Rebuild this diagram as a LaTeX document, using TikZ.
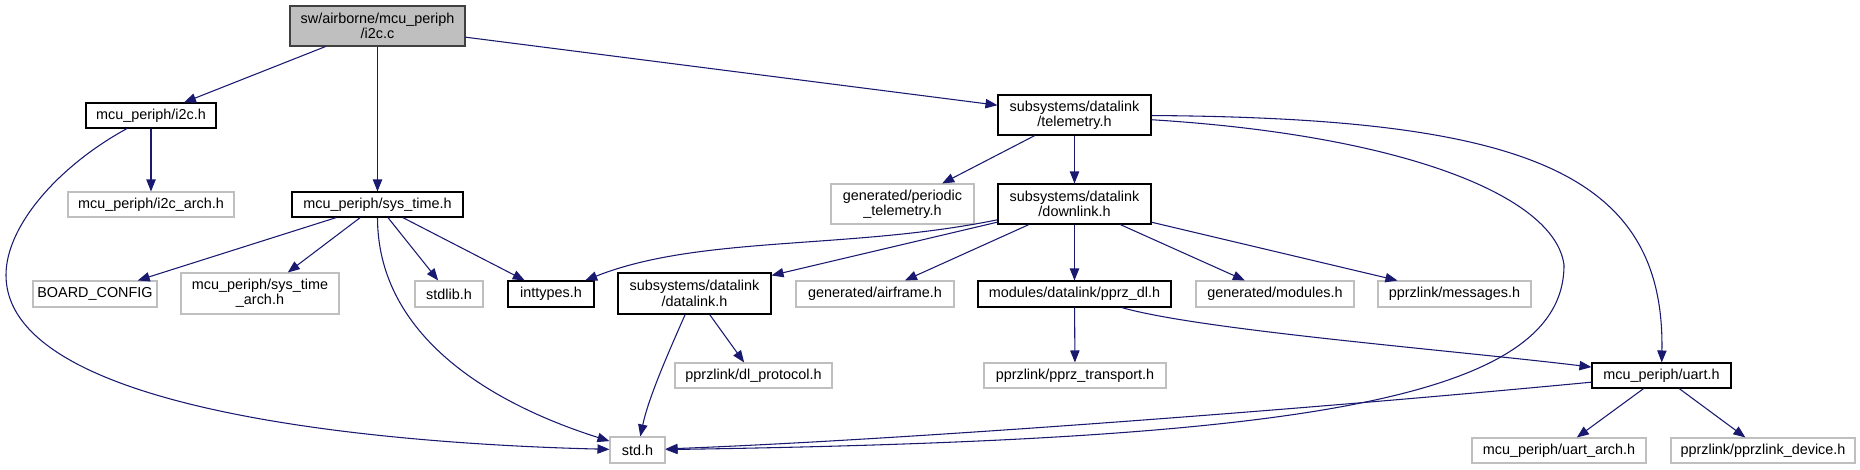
\documentclass[tikz,border=0pt]{standalone}
\usepackage{fontspec}
\setmainfont{Liberation Sans}
\usetikzlibrary{arrows.meta}
\definecolor{edgeblue}{HTML}{191970}
\definecolor{boxgray}{HTML}{BFBFBF}

\begin{document}
\begin{tikzpicture}[x=0.75pt, y=-0.75pt,
    file/.style={draw, rectangle, inner sep=1pt, minimum height=18.75pt, line width=0.8pt,
                 font=\fontsize{10.8}{11.5}\selectfont, align=center},
    doc/.style={file, draw=black},
    nodoc/.style={file, draw=boxgray},
    this/.style={file, draw=black!75, fill=boxgray},
    inc/.style={-{Triangle[length=9pt,width=7pt]}, edgeblue, line width=0.8pt}
]
    \useasboundingbox (0,0) rectangle (1860,469);

    \node[this, minimum width=131.25pt, minimum height=30pt] (i2cc) at (377.5,26) {sw/airborne/mcu\_periph\\/i2c.c};
    \node[doc, minimum width=97.5pt] (i2ch) at (151,115.5) {mcu\_periph/i2c.h};
    \node[nodoc, minimum width=124.5pt] (i2carch) at (151,204.5) {mcu\_periph/i2c\_arch.h};
    \node[doc, minimum width=128.25pt] (systime) at (377.5,204.5) {mcu\_periph/sys\_time.h};
    \node[doc, minimum width=114.75pt, minimum height=30pt] (telem) at (1074.5,115) {subsystems/datalink\\/telemetry.h};
    \node[nodoc, minimum width=107.25pt, minimum height=30pt] (periodic) at (902.5,204) {generated/periodic\\\_telemetry.h};
    \node[doc, minimum width=114.75pt, minimum height=30pt] (downlink) at (1074.5,204) {subsystems/datalink\\/downlink.h};
    \node[nodoc, minimum width=93pt, minimum height=19.5pt] (board) at (95,294) {BOARD\_CONFIG};
    \node[nodoc, minimum width=118.5pt, minimum height=30.75pt] (systarch) at (260,293.5) {mcu\_periph/sys\_time\\\_arch.h};
    \node[nodoc, minimum width=51pt, minimum height=19.5pt] (stdlib) at (449,294) {stdlib.h};
    \node[doc, minimum width=64.5pt, minimum height=19.5pt] (inttypes) at (551,294) {inttypes.h};
    \node[doc, minimum width=114.75pt, minimum height=30.75pt] (datalink) at (694.5,293.5) {subsystems/datalink\\/datalink.h};
    \node[nodoc, minimum width=118.5pt, minimum height=19.5pt] (airframe) at (875,294) {generated/airframe.h};
    \node[doc, minimum width=144.75pt, minimum height=19.5pt] (pprzdl) at (1074.5,294) {modules/datalink/pprz\_dl.h};
    \node[nodoc, minimum width=118.5pt, minimum height=19.5pt] (modules) at (1275,294) {generated/modules.h};
    \node[nodoc, minimum width=114.75pt, minimum height=19.5pt] (messages) at (1454.5,294) {pprzlink/messages.h};
    \node[nodoc, minimum width=117.75pt] (dlproto) at (753.5,375.5) {pprzlink/dl\_protocol.h};
    \node[nodoc, minimum width=136.5pt] (transport) at (1075,375.5) {pprzlink/pprz\_transport.h};
    \node[doc, minimum width=104.25pt] (uart) at (1661.5,375.5) {mcu\_periph/uart.h};
    \node[nodoc, minimum width=41.25pt, minimum height=19.5pt] (stdh) at (637.5,450) {std.h};
    \node[nodoc, minimum width=130.5pt] (uartarch) at (1559,450.5) {mcu\_periph/uart\_arch.h};
    \node[nodoc, minimum width=138pt] (device) at (1763,450.5) {pprzlink/pprzlink\_device.h};

    \draw[inc] (i2cc) -- (i2ch);
    \draw[inc] (i2cc) -- (systime);
    \draw[inc] (i2cc) -- (telem);
    \draw[inc] (i2ch) -- (i2carch);
    \draw[inc] (i2ch) .. controls (60,165) and (6,225) .. (6,275) .. controls (6,420) and (430,445) .. (stdh);
    \draw[inc] (systime) -- (board);
    \draw[inc] (systime) -- (systarch);
    \draw[inc] (systime) .. controls (377.5,330) and (480,400) .. (stdh);
    \draw[inc] (systime) -- (stdlib);
    \draw[inc] (systime) -- (inttypes);
    \draw[inc] (telem) -- (periodic);
    \draw[inc] (telem) -- (downlink);
    \draw[inc] (telem) .. controls (1400,135) and (1555,195) .. (1564,265) .. controls (1564,400) and (1300,440) .. (stdh);
    \draw[inc] (telem) .. controls (1520,118) and (1665,170) .. (uart);
    \draw[inc] (downlink) .. controls (850,250) and (700,235) .. (inttypes);
    \draw[inc] (downlink) -- (datalink);
    \draw[inc] (downlink) -- (airframe);
    \draw[inc] (downlink) -- (pprzdl);
    \draw[inc] (downlink) -- (modules);
    \draw[inc] (downlink) -- (messages);
    \draw[inc] (datalink) .. controls (665,360) and (648,400) .. (stdh);
    \draw[inc] (datalink) -- (dlproto);
    \draw[inc] (pprzdl) -- (transport);
    \draw[inc] (pprzdl) .. controls (1200,330) and (1450,350) .. (uart);
    \draw[inc] (uart) .. controls (1300,410) and (900,440) .. (stdh);
    \draw[inc] (uart) -- (uartarch);
    \draw[inc] (uart) -- (device);
\end{tikzpicture}
\end{document}
